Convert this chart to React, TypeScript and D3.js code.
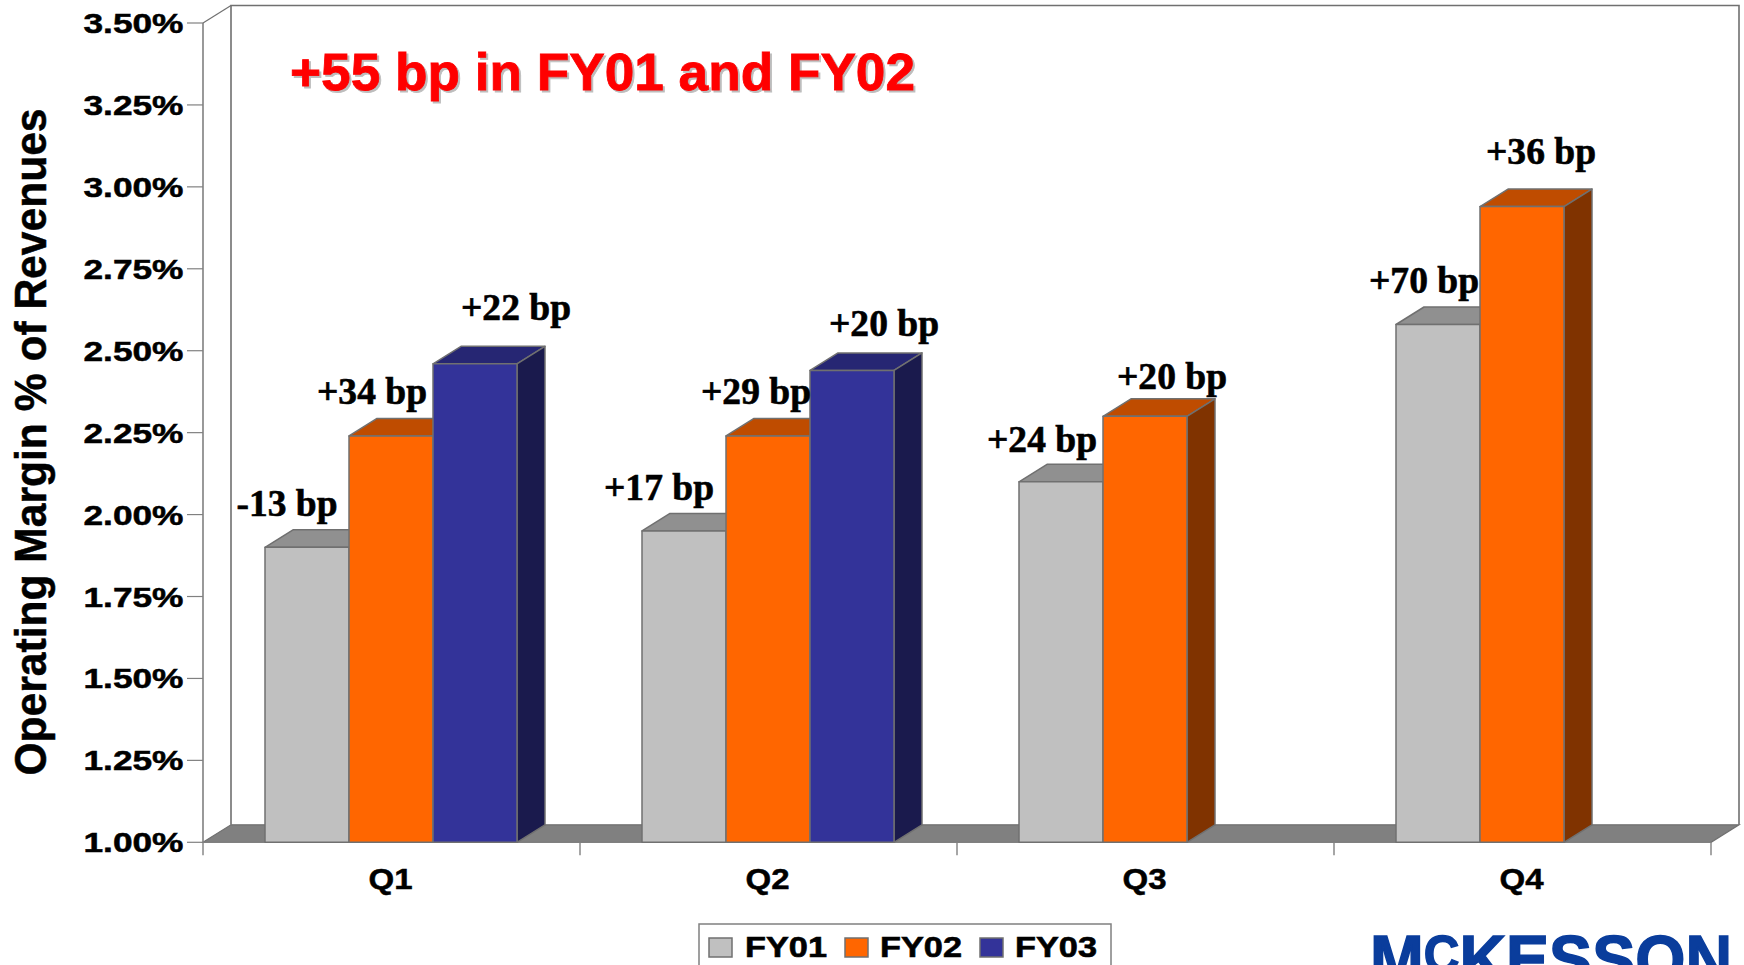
import React from "react";
import * as d3 from "d3";

const categories = ["Q1", "Q2", "Q3", "Q4"];
const seriesNames = ["FY01", "FY02", "FY03"];
const fy01 = [1.9, 1.95, 2.1, 2.58];
const fy02 = [2.24, 2.24, 2.3, 2.94];
const fy03: (number | null)[] = [2.46, 2.44, null, null];
const tickValues = [1, 1.25, 1.5, 1.75, 2, 2.25, 2.5, 2.75, 3, 3.25, 3.5];
const fy01Labels = ["-13 bp", "+17 bp", "+24 bp", "+70 bp"];
const fy02Labels = ["+34 bp", "+29 bp", "+20 bp", "+36 bp"];
const fy03Labels = ["+22 bp", "+20 bp", "", ""];
const titleText = "+55 bp in FY01 and FY02";
const yAxisTitle = "Operating Margin % of Revenues";

// styling / layout (not data)
const faces = [
  { front: "#C0C0C0", top: "#909090", side: "#606060" },
  { front: "#FF6600", top: "#BF4C00", side: "#803300" },
  { front: "#333399", top: "#262673", side: "#1A1A4D" },
];
const labelNudge = [
  [[-20, -31.5], [-25, -31], [-19, -29.5], [-14, -32]],
  [[-19, -32], [-12, -32], [27, -27], [19, -43]],
  [[41, -44], [32, -34], [0, 0], [0, 0]],
];
const L = 203, R = 1711, B = 842.3, T = 23, DX = 28, DY = 17.5, BW = 84;
const LINE = "#707070";
const SANS = "'Liberation Sans', Arial, sans-serif";
const SERIF = "'Liberation Serif', 'Times New Roman', serif";

const x0 = d3.scaleBand<string>().domain(categories).range([L, R]);
const x1 = d3.scaleBand<string>().domain(seriesNames).range([0, BW * 3]);
const y = d3.scaleLinear().domain([1, 3.5]).range([B, T]);
const fmt = d3.format(".2f");
const allSeries = [fy01, fy02, fy03];
const allLabels = [fy01Labels, fy02Labels, fy03Labels];

const pts = (p: number[][]) => p.map((q) => q.join(",")).join(" ");
const barX = (c: string, s: string) =>
  (x0(c) as number) + (x0.bandwidth() - BW * 3) / 2 - 0.5 + (x1(s) as number);

export default function App() {
  const legend = [
    { sx: 709, tx: 745 },
    { sx: 845, tx: 880 },
    { sx: 980, tx: 1015 },
  ];
  return (
    <svg
      width={1744}
      height={965}
      viewBox="0 0 1744 965"
      style={{ position: "absolute", left: 0, top: 0, background: "#fff", display: "block" }}
    >
      {/* back wall */}
      <polyline
        points={pts([[L + DX, B - DY], [L + DX, T - DY], [R + DX, T - DY], [R + DX, B - DY]])}
        fill="none"
        stroke={LINE}
        strokeWidth={1.6}
      />
      {/* floor */}
      <polygon
        points={pts([[L, B], [L + DX, B - DY], [R + DX, B - DY], [R, B]])}
        fill="#808080"
        stroke={LINE}
        strokeWidth={1.2}
      />
      {/* y axis */}
      <line x1={L} x2={L} y1={T} y2={B} stroke="#808080" strokeWidth={1.6} />
      <line x1={L} x2={L + DX} y1={T} y2={T - DY} stroke={LINE} strokeWidth={1.2} />
      {tickValues.map((v) => (
        <g key={v}>
          <line x1={187} x2={L} y1={y(v)} y2={y(v)} stroke="#808080" strokeWidth={1.2} />
          <text
            x={183.5}
            y={y(v) + 10}
            textAnchor="end"
            fontFamily={SANS}
            fontWeight="bold"
            fontSize={28}
            textLength={100}
            lengthAdjust="spacingAndGlyphs"
            fill="#000"
            stroke="#000"
            strokeWidth={0.5}
          >
            {fmt(v)}%
          </text>
        </g>
      ))}
      {/* x axis */}
      <line x1={L} x2={R} y1={B} y2={B} stroke="#808080" strokeWidth={1.6} />
      {[...categories.map((c) => x0(c) as number), R].map((t) => (
        <line key={t} x1={t} x2={t} y1={B} y2={B + 13} stroke="#808080" strokeWidth={1.4} />
      ))}
      {categories.map((c) => (
        <text
          key={c}
          x={(x0(c) as number) + x0.bandwidth() / 2 - 1}
          y={889}
          textAnchor="middle"
          fontFamily={SANS}
          fontWeight="bold"
          fontSize={30}
          textLength={44}
          lengthAdjust="spacingAndGlyphs"
          stroke="#000"
          strokeWidth={0.5}
        >
          {c}
        </text>
      ))}
      {/* bars */}
      {categories.map((c, ci) =>
        seriesNames.map((s, si) => {
          const v = allSeries[si][ci];
          if (v == null) return null;
          const xa = barX(c, s);
          const xb = xa + x1.bandwidth();
          const yt = y(v);
          const f = faces[si];
          return (
            <g key={c + s} stroke={LINE} strokeWidth={1.5} strokeLinejoin="round">
              <polygon points={pts([[xa, yt], [xa + DX, yt - DY], [xb + DX, yt - DY], [xb, yt]])} fill={f.top} />
              <polygon points={pts([[xb, yt], [xb + DX, yt - DY], [xb + DX, B - DY], [xb, B]])} fill={f.side} />
              <rect x={xa} y={yt} width={xb - xa} height={B - yt} fill={f.front} />
            </g>
          );
        })
      )}
      {/* value labels */}
      {categories.map((c, ci) =>
        seriesNames.map((s, si) => {
          const t = allLabels[si][ci];
          if (!t) return null;
          const [nx, ny] = labelNudge[si][ci];
          return (
            <text
              key={c + s + "l"}
              x={barX(c, s) + x1.bandwidth() / 2 + nx}
              y={y(allSeries[si][ci] as number) + ny}
              textAnchor="middle"
              fontFamily={SERIF}
              fontWeight="bold"
              fontSize={37}
              textLength={t.startsWith("-") ? 101 : 110}
              lengthAdjust="spacingAndGlyphs"
              stroke="#000"
              strokeWidth={0.6}
            >
              {t}
            </text>
          );
        })
      )}
      {/* title */}
      <text x={292} y={92} fontFamily={SANS} fontWeight="bold" fontSize={52} textLength={625} lengthAdjust="spacingAndGlyphs" fill="#BDBDBD" stroke="#BDBDBD" strokeWidth={0.8}>
        {titleText}
      </text>
      <text x={290} y={90} fontFamily={SANS} fontWeight="bold" fontSize={52} textLength={625} lengthAdjust="spacingAndGlyphs" fill="#FF0000" stroke="#FF0000" strokeWidth={0.8}>
        {titleText}
      </text>
      {/* y title */}
      <text
        transform="translate(46,442) rotate(-90)"
        textAnchor="middle"
        fontFamily={SANS}
        fontWeight="bold"
        fontSize={44}
        textLength={667}
        lengthAdjust="spacingAndGlyphs"
        stroke="#000"
        strokeWidth={0.5}
      >
        {yAxisTitle}
      </text>
      {/* legend */}
      <rect x={699} y={924} width={412} height={60} fill="#fff" stroke="#808080" strokeWidth={1.5} />
      {seriesNames.map((s, i) => (
        <g key={s}>
          <rect x={legend[i].sx} y={938} width={23} height={19} fill={faces[i].front} stroke={LINE} strokeWidth={1.5} />
          <text
            x={legend[i].tx}
            y={957}
            fontFamily={SANS}
            fontWeight="bold"
            fontSize={29}
            textLength={82}
            lengthAdjust="spacingAndGlyphs"
            stroke="#000"
            strokeWidth={0.6}
          >
            {s}
          </text>
        </g>
      ))}
      {/* logo */}
      <text x={1370} y={983} fontFamily={SANS} fontWeight="bold" fontSize={68} fill="#0A3D9C" stroke="#0A3D9C" strokeWidth={1.5} textLength={362} lengthAdjust="spacingAndGlyphs">
        M<tspan fontSize={52} dy={-11}>C</tspan>
        <tspan dy={11}>KESSON</tspan>
      </text>
    </svg>
  );
}
